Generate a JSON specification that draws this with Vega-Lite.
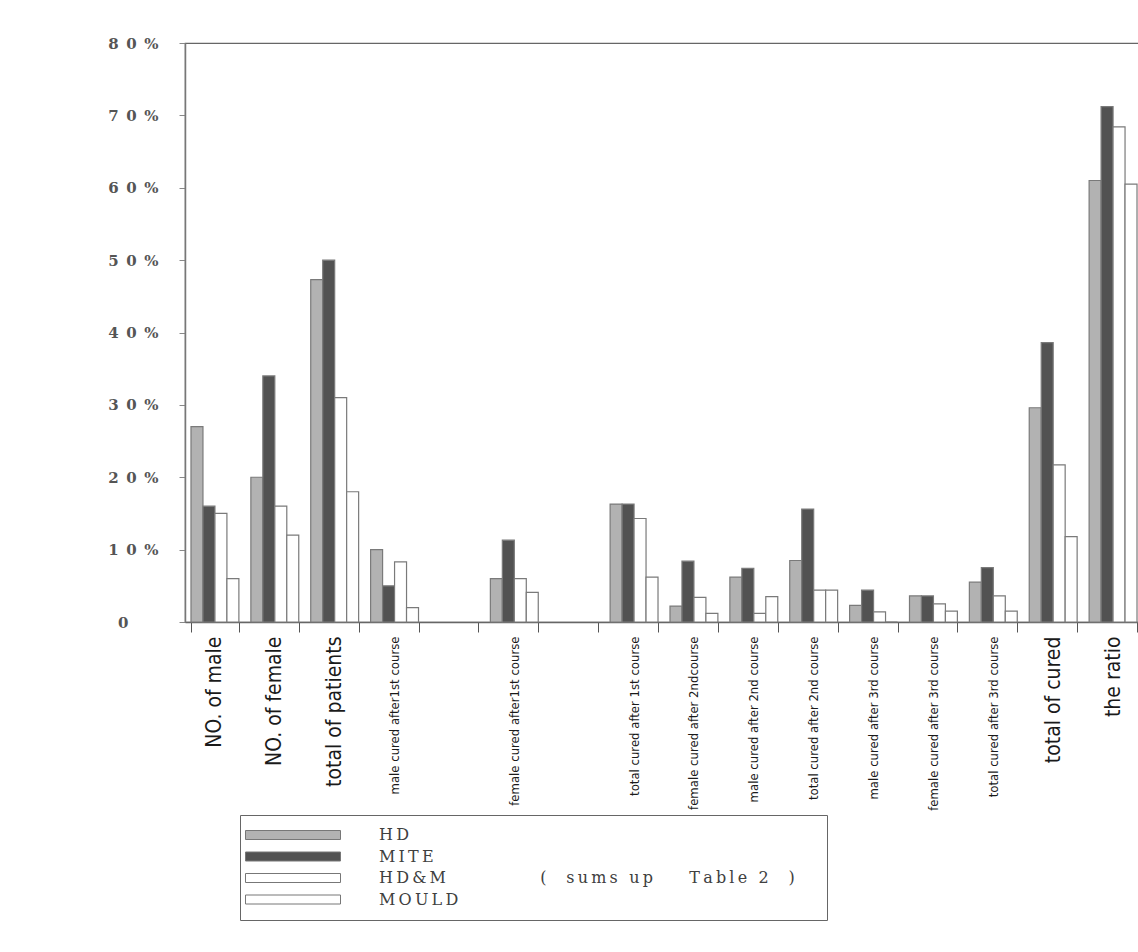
{
  "$schema": "https://vega.github.io/schema/vega-lite/v6.json",
  "width": 958,
  "height": 579,
  "autosize": {"type": "none"},
  "padding": {"left": 185, "top": 43, "right": 0, "bottom": 330},
  "background": "#ffffff",
  "data": {
    "values": [
      {"cat": "NO. of male", "series": "HD", "pct": 27},
      {"cat": "NO. of male", "series": "MITE", "pct": 16},
      {"cat": "NO. of male", "series": "HD&M", "pct": 15},
      {"cat": "NO. of male", "series": "MOULD", "pct": 6},
      {"cat": "NO. of female", "series": "HD", "pct": 20},
      {"cat": "NO. of female", "series": "MITE", "pct": 34},
      {"cat": "NO. of female", "series": "HD&M", "pct": 16},
      {"cat": "NO. of female", "series": "MOULD", "pct": 12},
      {"cat": "total of patients", "series": "HD", "pct": 47.3},
      {"cat": "total of patients", "series": "MITE", "pct": 50},
      {"cat": "total of patients", "series": "HD&M", "pct": 31},
      {"cat": "total of patients", "series": "MOULD", "pct": 18},
      {"cat": "male cured after1st course", "series": "HD", "pct": 10},
      {"cat": "male cured after1st course", "series": "MITE", "pct": 5},
      {"cat": "male cured after1st course", "series": "HD&M", "pct": 8.3},
      {"cat": "male cured after1st course", "series": "MOULD", "pct": 2},
      {"cat": "female cured after1st course", "series": "HD", "pct": 6},
      {"cat": "female cured after1st course", "series": "MITE", "pct": 11.3},
      {"cat": "female cured after1st course", "series": "HD&M", "pct": 6},
      {"cat": "female cured after1st course", "series": "MOULD", "pct": 4.1},
      {"cat": "total cured after 1st course", "series": "HD", "pct": 16.3},
      {"cat": "total cured after 1st course", "series": "MITE", "pct": 16.3},
      {"cat": "total cured after 1st course", "series": "HD&M", "pct": 14.3},
      {"cat": "total cured after 1st course", "series": "MOULD", "pct": 6.2},
      {"cat": "female cured after 2ndcourse", "series": "HD", "pct": 2.2},
      {"cat": "female cured after 2ndcourse", "series": "MITE", "pct": 8.4},
      {"cat": "female cured after 2ndcourse", "series": "HD&M", "pct": 3.4},
      {"cat": "female cured after 2ndcourse", "series": "MOULD", "pct": 1.2},
      {"cat": "male cured after 2nd course", "series": "HD", "pct": 6.2},
      {"cat": "male cured after 2nd course", "series": "MITE", "pct": 7.4},
      {"cat": "male cured after 2nd course", "series": "HD&M", "pct": 1.2},
      {"cat": "male cured after 2nd course", "series": "MOULD", "pct": 3.5},
      {"cat": "total cured after 2nd course", "series": "HD", "pct": 8.5},
      {"cat": "total cured after 2nd course", "series": "MITE", "pct": 15.6},
      {"cat": "total cured after 2nd course", "series": "HD&M", "pct": 4.4},
      {"cat": "total cured after 2nd course", "series": "MOULD", "pct": 4.4},
      {"cat": "male cured after 3rd course", "series": "HD", "pct": 2.3},
      {"cat": "male cured after 3rd course", "series": "MITE", "pct": 4.4},
      {"cat": "male cured after 3rd course", "series": "HD&M", "pct": 1.4},
      {"cat": "male cured after 3rd course", "series": "MOULD", "pct": 0},
      {"cat": "female cured after 3rd course", "series": "HD", "pct": 3.6},
      {"cat": "female cured after 3rd course", "series": "MITE", "pct": 3.6},
      {"cat": "female cured after 3rd course", "series": "HD&M", "pct": 2.5},
      {"cat": "female cured after 3rd course", "series": "MOULD", "pct": 1.5},
      {"cat": "total cured after 3rd course", "series": "HD", "pct": 5.5},
      {"cat": "total cured after 3rd course", "series": "MITE", "pct": 7.5},
      {"cat": "total cured after 3rd course", "series": "HD&M", "pct": 3.6},
      {"cat": "total cured after 3rd course", "series": "MOULD", "pct": 1.5},
      {"cat": "total of cured", "series": "HD", "pct": 29.6},
      {"cat": "total of cured", "series": "MITE", "pct": 38.6},
      {"cat": "total of cured", "series": "HD&M", "pct": 21.7},
      {"cat": "total of cured", "series": "MOULD", "pct": 11.8},
      {"cat": "the ratio", "series": "HD", "pct": 61},
      {"cat": "the ratio", "series": "MITE", "pct": 71.2},
      {"cat": "the ratio", "series": "HD&M", "pct": 68.4},
      {"cat": "the ratio", "series": "MOULD", "pct": 60.5}
    ]
  },
  "mark": {"type": "bar", "stroke": "#7a7a7a", "strokeWidth": 1.2, "fillOpacity": 1},
  "encoding": {
    "x": {
      "field": "cat",
      "type": "nominal",
      "scale": {
        "domain": ["NO. of male", "NO. of female", "total of patients", "male cured after1st course", " ", "female cured after1st course", "  ", "total cured after 1st course", "female cured after 2ndcourse", "male cured after 2nd course", "total cured after 2nd course", "male cured after 3rd course", "female cured after 3rd course", "total cured after 3rd course", "total of cured", "the ratio"],
        "paddingInner": 0.2,
        "paddingOuter": 0.1
      },
      "axis": {
        "title": null,
        "labelAngle": 270,
        "labelAlign": "right",
        "labelBaseline": "middle",
        "labelFont": "Liberation Sans Narrow, DejaVu Sans Condensed, Arial Narrow, sans-serif",
        "labelFontSize": {"condition": {"test": "length(datum.label) > 17", "value": 13}, "value": 21},
        "labelColor": "#1a1a1a",
        "labelPadding": 4,
        "labelLimit": 0,
        "tickBand": "extent",
        "tickSize": 10,
        "tickColor": "#555555",
        "domainColor": "#666666",
        "domainWidth": 1.5
      }
    },
    "xOffset": {"field": "series", "type": "nominal", "sort": ["HD", "MITE", "HD&M", "MOULD"]},
    "y": {
      "field": "pct",
      "type": "quantitative",
      "scale": {"domain": [0, 80], "nice": false},
      "axis": {
        "title": null,
        "values": [0, 10, 20, 30, 40, 50, 60, 70, 80],
        "labelExpr": "datum.value == 0 ? '0' : (floor(datum.value / 10) + '\u2002' + '0' + '\u2002' + '%')",
        "labelFont": "DejaVu Serif, Liberation Serif, serif",
        "labelFontWeight": "bold",
        "labelFontSize": 15,
        "labelColor": "#555555",
        "labelPadding": {"condition": {"test": "datum.value == 0", "value": 51}, "value": 21},
        "tickSize": 6,
        "tickColor": "#888888",
        "domainColor": "#777777",
        "domainWidth": 1.5,
        "grid": false
      }
    },
    "fill": {
      "field": "series",
      "type": "nominal",
      "sort": ["HD", "MITE", "HD&M", "MOULD"],
      "scale": {"domain": ["HD", "MITE", "HD&M", "MOULD"], "range": ["#b2b2b2", "#525252", "#ffffff", "#ffffff"]},
      "legend": {
        "title": null,
        "orient": "none",
        "legendX": 55,
        "legendY": 772,
        "direction": "vertical",
        "strokeColor": "#666666",
        "padding": 12,
        "symbolType": "M-9.5,-0.9L9.5,-0.9L9.5,0.9L-9.5,0.9Z",
        "symbolSize": 100,
        "symbolOffset": 33,
        "symbolStrokeColor": "#777777",
        "symbolStrokeWidth": 1,
        "symbolOpacity": 1,
        "labelFont": "DejaVu Serif, Liberation Serif, serif",
        "labelFontSize": 16,
        "labelColor": "#404040",
        "labelOffset": 78,
        "labelLimit": 0,
        "rowPadding": 5.5,
        "labelExpr": "replace(datum.label == 'HD&M' ? 'HD&M\u00a0\u00a0\u00a0\u00a0\u00a0\u00a0\u00a0\u00a0\u00a0\u00a0\u00a0(\u00a0\u00a0sums\u00a0up\u00a0\u00a0\u00a0\u00a0Table\u00a02\u00a0\u00a0)\u00a0\u00a0\u200b' : datum.label, regexp('(.)(?=.)', 'g'), '$1\u2009')"
      }
    }
  },
  "config": {
    "view": {"stroke": "#666666", "strokeWidth": 1.2},
    "axis": {"ticks": true}
  }
}
